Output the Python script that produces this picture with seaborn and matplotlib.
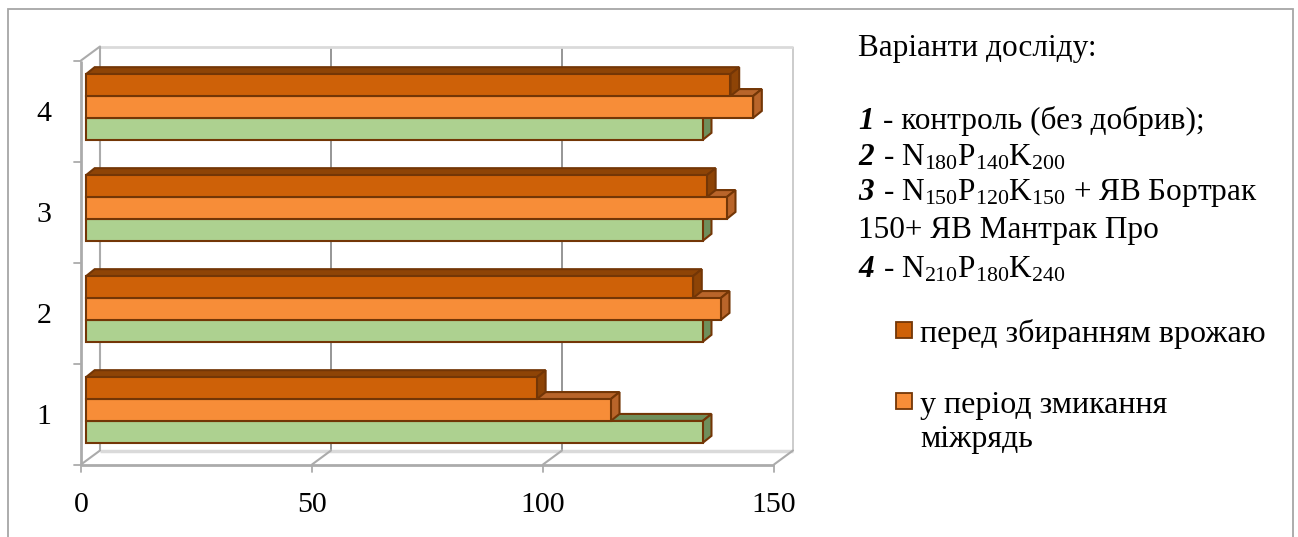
import matplotlib
matplotlib.use("Agg")
import matplotlib.pyplot as plt
from matplotlib.patches import Polygon, Rectangle
from matplotlib.transforms import ScaledTranslation
import pandas as pd
import seaborn as sns

# ---- data -------------------------------------------------------------
variants = ["1", "2", "3", "4"]
before_harvest = [97.6, 131.4, 134.4, 139.5]   # перед збиранням врожаю
row_closure = [113.6, 137.4, 138.7, 144.4]     # у період змикання міжрядь
series_3 = [133.5, 133.5, 133.5, 133.5]        # ряд 3
x_ticks = [0, 50, 100, 150]

names = ["перед збиранням врожаю", "у період змикання\nміжрядь", "Ряд 3"]
front_colors = ["#CE6108", "#F78D38", "#ADD190"]
shade_colors = ["#8E4406", "#B9652A", "#6F8F5B"]
edge_color = "#733606"

df = pd.DataFrame({
    "variant": variants * 3,
    "value": before_harvest + row_closure + series_3,
    "series": [names[0]] * 4 + [names[1]] * 4 + [names[2]] * 4,
})

# ---- figure -----------------------------------------------------------
W, H, DPI = 1298, 537, 100
sns.set_theme(style="white")
plt.rcParams["font.family"] = ["Liberation Serif", "DejaVu Serif"]
plt.rcParams["text.color"] = "black"
plt.rcParams["mathtext.fontset"] = "custom"
plt.rcParams["mathtext.rm"] = "Liberation Serif"
plt.rcParams["mathtext.it"] = "Liberation Serif:italic"
plt.rcParams["mathtext.bf"] = "Liberation Serif:bold"

fig = plt.figure(figsize=(W / DPI, H / DPI), dpi=DPI)
fig.patch.set_facecolor("white")

K = 4.62          # pixels per value unit
BAND = 101.0      # pixels per category
left_px, top_px = 86, 56.5
ax = fig.add_axes([left_px / W, 1 - (top_px + 4 * BAND) / H,
                   150 * K / W, 4 * BAND / H])
ax.set_facecolor("none")

order = variants[::-1]
sns.barplot(data=df, y="variant", x="value", hue="series", order=order,
            hue_order=names, palette=front_colors, orient="h", width=0.65,
            saturation=1, edgecolor=edge_color, linewidth=1.5, legend=False,
            ax=ax)
ax.set_xlim(0, 150)
ax.set_ylim(3.5, -0.5)
for s in ax.spines.values():
    s.set_visible(False)
ax.set_xlabel("")
ax.set_ylabel("")


def shifted(dx, dy):
    """Data transform moved by dx, dy screen pixels (dy positive = down)."""
    return ax.transData + ScaledTranslation(dx / DPI, -dy / DPI, fig.dpi_scale_trans)


# depth of bars and of the walls, in screen pixels
DEPTH = (8.7, -7.0)
FRONT = (-5.0, 4.0)
BACK = (14.0, -10.0)
ddx = DEPTH[0] / K
ddy = DEPTH[1] / BAND

# ---- 3D walls ---------------------------------------------------------
tf = shifted(*FRONT)
tb = shifted(*BACK)
wall = "#ABABAB"
light = "#DADADA"
grid = "#8E8E8E"

def seg(xs, ys, tr, color, lw, z=0.5):
    ax.plot(xs, ys, transform=tr, color=color, lw=lw, clip_on=False,
            zorder=z, solid_capstyle="butt")

# back wall gridlines and top edge
for v in x_ticks[1:]:
    seg([v, v], [-0.5, 3.5], tb, grid if v < 150 else "#C8C8C8", 1.3)
seg([0, 150], [-0.5, -0.5], tb, light, 2.0)
seg([0, 0], [-0.5, 3.5], tb, wall, 1.5)
# floor
seg([0, 150], [3.5, 3.5], tb, light, 2.5)
seg([0, 150], [3.5, 3.5], tf, wall, 2.0)
for v in x_ticks:
    xs0, ys0 = tf.transform((v, 3.5))
    xs1, ys1 = tb.transform((v, 3.5))
    ax.plot([xs0, xs1], [ys0, ys1], transform=None, color=wall, lw=1.5,
            clip_on=False, zorder=0.5)
    # tick mark below the front floor edge
    ax.plot([xs0, xs0], [ys0, ys0 - 7], transform=None, color=wall, lw=1.3,
            clip_on=False, zorder=0.5)
# left wall
seg([0, 0], [-0.5, 3.5], tf, wall, 2.0)
xs0, ys0 = tf.transform((0, -0.5))
xs1, ys1 = tb.transform((0, -0.5))
ax.plot([xs0, xs1], [ys0, ys1], transform=None, color=wall, lw=1.5,
        clip_on=False, zorder=0.5)
for yv in [-0.5, 0.5, 1.5, 2.5, 3.5]:
    xs0, ys0 = tf.transform((0, yv))
    ax.plot([xs0 - 7, xs0], [ys0, ys0], transform=None, color=wall, lw=1.3,
            clip_on=False, zorder=0.5)

# ---- 3D bar faces -----------------------------------------------------
for hi, cont in enumerate(ax.containers):
    z = 2 + (2 - hi) * 0.2
    for bar in cont:
        x0, y0 = bar.get_x(), bar.get_y()
        w, h = bar.get_width(), bar.get_height()
        yt, yb = min(y0, y0 + h), max(y0, y0 + h)
        x1 = x0 + w
        top = Polygon([(x0, yt), (x1, yt), (x1 + ddx, yt + ddy), (x0 + ddx, yt + ddy)],
                      closed=True, fc=shade_colors[hi], ec=edge_color, lw=1.5,
                      zorder=z, clip_on=False)
        side = Polygon([(x1, yt), (x1, yb), (x1 + ddx, yb + ddy), (x1 + ddx, yt + ddy)],
                       closed=True, fc=shade_colors[hi], ec=edge_color, lw=1.5,
                       zorder=z, clip_on=False)
        ax.add_patch(top)
        ax.add_patch(side)
        bar.set_zorder(z + 0.1)
        bar.set_clip_on(False)

# ---- ticks ------------------------------------------------------------
ax.set_xticks(x_ticks)
ax.set_xticklabels([str(t) for t in x_ticks])
ax.tick_params(axis="both", length=0, labelsize=21.5, colors="black")
ax.tick_params(axis="x", pad=23)
ax.tick_params(axis="y", pad=25)
for lab in ax.get_xticklabels():
    lab.set_transform(lab.get_transform() + ScaledTranslation(FRONT[0] / DPI, 0, fig.dpi_scale_trans))
for lab in ax.get_yticklabels():
    lab.set_transform(lab.get_transform() + ScaledTranslation(0, -FRONT[1] / DPI, fig.dpi_scale_trans))

# ---- legend / notes panel --------------------------------------------
def fx(px):
    return px / W

def fy(py):
    return 1 - py / H

FS = 22.5
fig.text(fx(858), fy(56), "Варіанти досліду:", fontsize=FS, va="baseline")
notes = [
    ("1", "- контроль (без добрив);", 129),
    ("2", r"- $\mathrm{N}_{180}\mathrm{P}_{140}\mathrm{K}_{200}$", 165),
    ("3", r"- $\mathrm{N}_{150}\mathrm{P}_{120}\mathrm{K}_{150}$ + ЯВ Бортрак", 200),
    (None, "150+ ЯВ Мантрак Про", 238),
    ("4", r"- $\mathrm{N}_{210}\mathrm{P}_{180}\mathrm{K}_{240}$", 277),
]
for num, txt, base in notes:
    if num is None:
        fig.text(fx(858), fy(base), txt, fontsize=FS, va="baseline")
    else:
        fig.text(fx(858), fy(base), num, fontsize=FS, va="baseline",
                 fontweight="bold", fontstyle="italic")
        fig.text(fx(883), fy(base), txt, fontsize=FS, va="baseline")

legend_rows = [(0, 322, [(names[0].split("\n")[0], 342)]),
               (1, 393, [(line, b) for line, b in zip(names[1].split("\n"), (413, 447))])]
for hi, sq_top, lines in legend_rows:
    fig.add_artist(Rectangle((fx(896), fy(sq_top + 16)), 16 / W, 16 / H,
                             transform=fig.transFigure, fc=front_colors[hi],
                             ec=edge_color, lw=1.3))
    for line, base in lines:
        fig.text(fx(920), fy(base), line, fontsize=23, va="baseline")

# outer frame
fig.add_artist(Rectangle((fx(8), -0.05), (1293 - 8) / W, 1.05 - 9 / H,
                         transform=fig.transFigure, fill=False, ec="#A6A6A6", lw=1.3))

fig.savefig("out.png", dpi=DPI, facecolor="white")
